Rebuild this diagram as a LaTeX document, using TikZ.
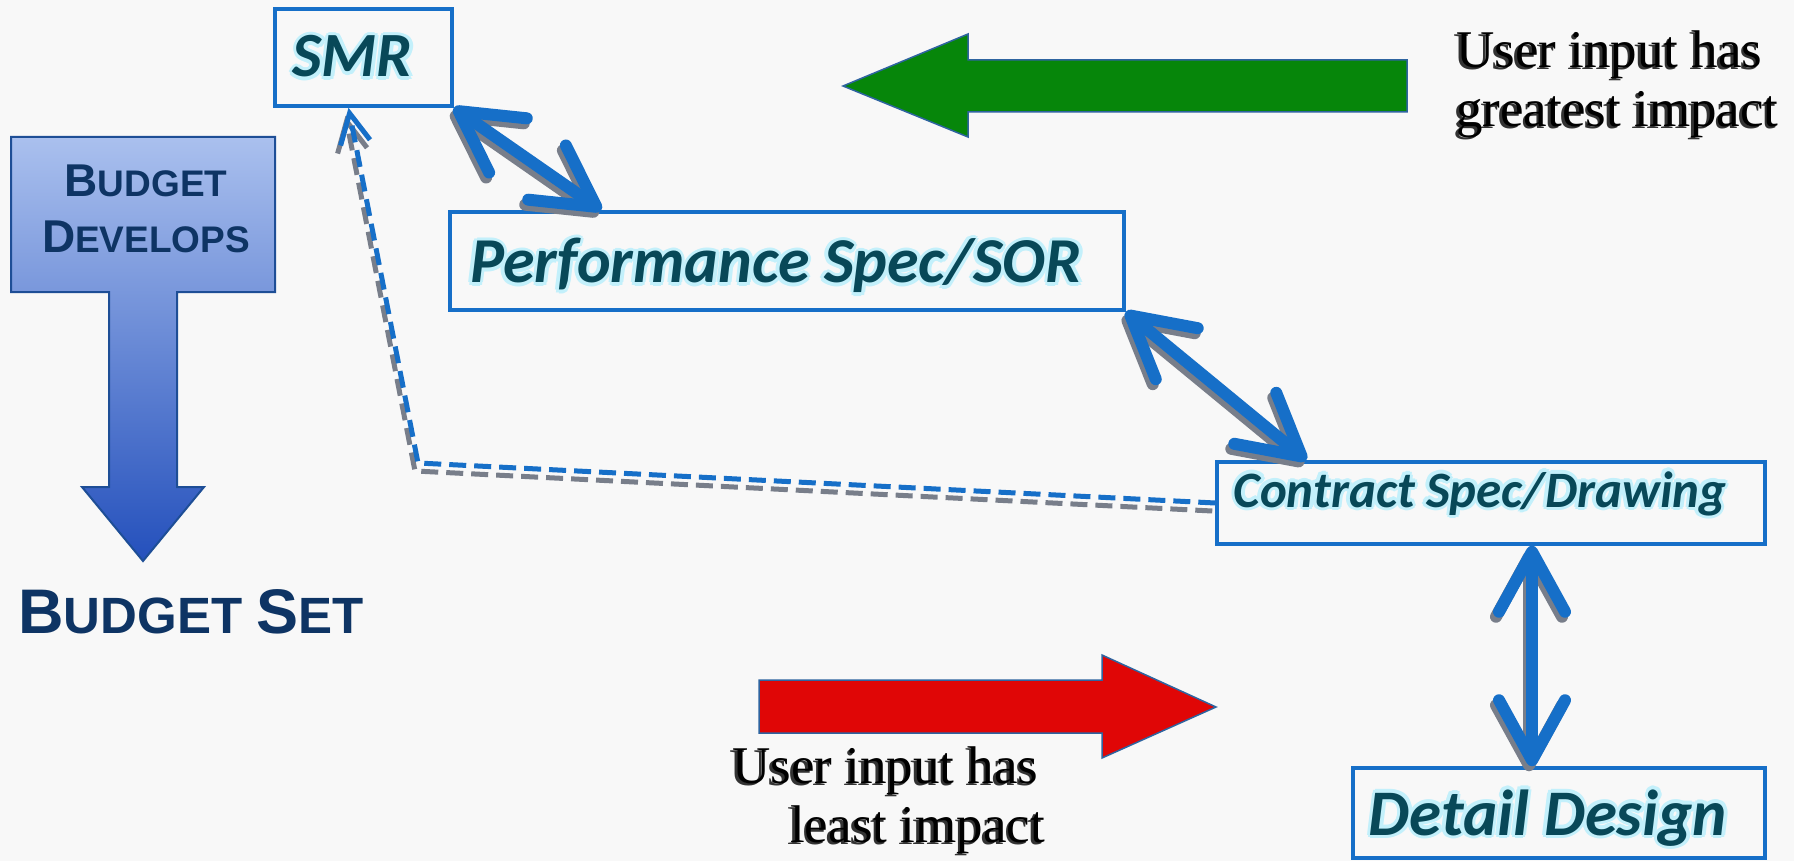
\documentclass[tikz,border=0pt]{standalone}
\usepackage{fontspec}
\setmainfont{Liberation Serif}
\newfontfamily\calibrifont{Carlito}
\newfontfamily\arialfont{Liberation Sans}
\usepackage{xcolor}
\usetikzlibrary{arrows.meta}

\definecolor{boxblue}{RGB}{22,111,200}
\definecolor{labelteal}{RGB}{8,72,88}
\definecolor{glowcyan}{RGB}{195,240,251}
\definecolor{budgetnavy}{RGB}{14,52,100}
\definecolor{budgettop}{RGB}{170,192,238}
\definecolor{budgetbottom}{RGB}{36,80,188}
\definecolor{budgetedge}{RGB}{30,78,150}
\definecolor{greatgreen}{RGB}{6,134,10}
\definecolor{leastred}{RGB}{224,6,6}
\definecolor{arrowedge}{RGB}{46,100,160}
\definecolor{shadowgray}{RGB}{120,126,138}
\definecolor{paper}{RGB}{248,248,248}

% light halo behind the box labels (set a little left of centre)
\newcommand{\glow}[1]{%
  \hspace*{-22pt}%
  \foreach \dx/\dy in {3.5/0,-3.5/0,0/3.5,0/-3.5,2.5/2.5,-2.5/2.5,2.5/-2.5,-2.5/-2.5}{%
    \rlap{\kern\dx pt\raisebox{\dy pt}{\color{glowcyan}#1}}}%
  #1}
\newcommand{\emboss}[1]{\rlap{\kern-2.5pt\raisebox{-2pt}{\color{black!80}#1}}#1}
\newcommand{\scword}[4]{{\fontsize{#1}{#1}\selectfont #3}{\fontsize{#2}{#2}\selectfont #4}}

\begin{document}
\begin{tikzpicture}[x=1pt,y=-1pt,
  box/.style={draw=boxblue,line width=3.5pt,inner sep=0pt,text=labelteal,
    font=\calibrifont\bfseries\itshape\fontsize{#1}{#1}\selectfont},
  linkbase/.style={line width=12pt,
    {Straight Barb[length=60pt,width=66pt,round]}-{Straight Barb[length=60pt,width=66pt,round]}},
  link/.style={linkbase,draw=boxblue},
  linkshadow/.style={linkbase,draw=shadowgray,transform canvas={shift={(-3pt,-5pt)}}},
  backbase/.style={line width=5pt,dash pattern=on 17pt off 8pt,
    -{Straight Barb[length=30pt,width=30pt]}},
  backlink/.style={backbase,draw=boxblue},
  backshadow/.style={backbase,draw=shadowgray,transform canvas={shift={(-3pt,-8pt)}}},
  bigarrow/.style={draw=arrowedge,line width=1.5pt},
  impact/.style={font=\fontsize{53}{59}\selectfont,align=left,inner sep=0pt,anchor=north west}]

\useasboundingbox[fill=paper] (0,0) rectangle (1794,861);

% budget arrow
\draw[budgetedge,line width=2pt,top color=budgettop,bottom color=budgetbottom]
  (11,137) -- (275,137) -- (275,292) -- (177,292) -- (177,487) -- (204,487)
  -- (143,561) -- (82,487) -- (109,487) -- (109,292) -- (11,292) -- cycle;
\node[font=\arialfont\bfseries\fontsize{46}{56}\selectfont,text=budgetnavy,
  align=center,inner sep=0pt,anchor=north] (develops) at (146,165)
  {\scword{46}{37}{B}{UDGET}\\\scword{46}{37}{D}{EVELOPS}};
\node[font=\arialfont\bfseries\fontsize{51}{51}\selectfont,text=budgetnavy,inner sep=0pt,anchor=base west]
  (budgetset) at (18,633) {\scword{63}{51}{B}{UDGET} \scword{63}{51}{S}{ET}};

% boxes
\node[box=63,minimum width=177pt,minimum height=97pt,text height=42pt,text depth=3pt]
  (smr) at (363.5,57.5) {\glow{SMR}};
\node[box=64,minimum width=674pt,minimum height=98pt,text height=46pt,text depth=2pt]
  (perf) at (787,261) {\glow{Performance Spec/SOR}};
\node[box=51,minimum width=548pt,minimum height=82pt,text height=30pt,text depth=22pt]
  (contract) at (1491,503) {\glow{Contract Spec/Drawing}};
\node[box=65,minimum width=412pt,minimum height=90pt,text height=46pt,text depth=2pt]
  (detail) at (1559,813) {\glow{Detail Design}};

% impact arrows
\draw[bigarrow,fill=greatgreen] (843,86) -- (968,34) -- (968,60) -- (1407,60)
  -- (1407,112) -- (968,112) -- (968,137) -- cycle;
\draw[bigarrow,fill=leastred] (759,680) -- (1102,680) -- (1102,655) -- (1216,707)
  -- (1102,758) -- (1102,733) -- (759,733) -- cycle;

\node[impact] (greatest) at (1456,31)
  {\emboss{User input has}\\\emboss{greatest impact}};
\node[impact] (least) at (732,747)
  {\emboss{User input has}\\\hspace*{58pt}\emboss{least impact}};

% connectors
\coordinate (bend) at (418,463);

\path
  (smr.south east) edge [linkshadow] ([xshift=153pt]perf.north west)
  (smr.south east) edge [link] ([xshift=153pt]perf.north west)

  (perf.south east) edge [linkshadow] ([xshift=91pt]contract.north west)
  (perf.south east) edge [link] ([xshift=91pt]contract.north west)

  ([xshift=41pt]contract.south) edge [linkshadow] ([xshift=-27pt]detail.north)
  ([xshift=41pt]contract.south) edge [link] ([xshift=-27pt]detail.north)
;
\draw[backshadow] (contract.west) -- (bend) -- ([xshift=-15pt]smr.south);
\draw[backlink] (contract.west) -- (bend) -- ([xshift=-15pt]smr.south);
\end{tikzpicture}
\end{document}
